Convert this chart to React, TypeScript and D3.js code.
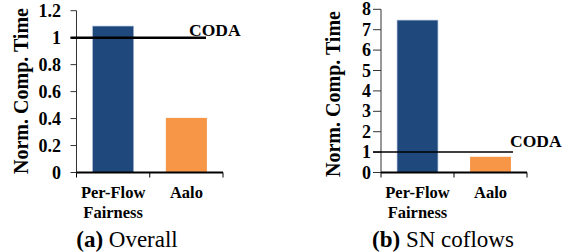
import React, { useRef, useEffect } from 'react';
import * as d3 from 'd3';

const categories = ['Per-Flow Fairness', 'Aalo'];
const overallValues = [1.086, 0.405];
const snValues = [7.47, 0.77];
const overallTicks = [0, 0.2, 0.4, 0.6, 0.8, 1, 1.2];
const snTicks = [0, 1, 2, 3, 4, 5, 6, 7, 8];
const codaValue = 1;
const barColors = ['#1f497d', '#f79646'];

const W = 569;
const H = 252;
const serif = "'Liberation Serif', 'Times New Roman', serif";

const App = () => {
  const ref = useRef(null);

  useEffect(() => {
    const svg = d3.select(ref.current);
    svg.selectAll('*').remove();

    const drawPanel = (opts) => {
      const { values, ticks, yMax, axisX, yTop, xEnd, tickLen, labelGap, codaEnd, codaStroke, codaLabelX, codaLabelY, titleX, titleY, capX, capBold, capRest } = opts;
      const y0 = 172.5;
      const y = d3.scaleLinear().domain([0, yMax]).range([y0, yTop]);
      const x = d3.scaleBand().domain(categories).range([axisX, xEnd]).paddingInner(0.44).paddingOuter(0.22);
      const g = svg.append('g').style('font-family', serif);

      // bars
      g.selectAll('rect.bar').data(values).join('rect')
        .attr('x', (d, i) => x(categories[i]))
        .attr('y', d => y(d))
        .attr('width', x.bandwidth())
        .attr('height', d => y0 - y(d))
        .attr('fill', (d, i) => barColors[i])
        .attr('stroke', (d, i) => i === 0 ? '#a9bcd6' : 'none')
        .attr('stroke-width', 0.6);

      // y axis
      g.append('line').attr('x1', axisX).attr('x2', axisX).attr('y1', yTop).attr('y2', y0)
        .attr('stroke', '#333').attr('stroke-width', 1);
      g.selectAll('line.yt').data(ticks).join('line')
        .attr('x1', axisX - tickLen).attr('x2', axisX)
        .attr('y1', d => y(d)).attr('y2', d => y(d))
        .attr('stroke', '#333').attr('stroke-width', 1);
      g.selectAll('text.yl').data(ticks).join('text')
        .attr('x', axisX - labelGap).attr('y', d => y(d)).attr('dy', '0.34em')
        .attr('text-anchor', 'end').style('font-weight', 'bold').style('font-size', '18px')
        .text(d => d);

      // x axis
      g.append('line').attr('x1', axisX).attr('x2', xEnd).attr('y1', y0).attr('y2', y0)
        .attr('stroke', '#000').attr('stroke-width', 2);
      const bounds = [axisX, axisX + x.step(), xEnd];
      g.selectAll('line.xt').data(bounds).join('line')
        .attr('x1', d => d).attr('x2', d => d).attr('y1', y0).attr('y2', y0 + 5)
        .attr('stroke', '#000').attr('stroke-width', 1);

      // category labels
      categories.forEach((c, i) => {
        const cx = x(c) + x.bandwidth() / 2;
        const words = c === 'Aalo' ? ['Aalo'] : ['Per-Flow', 'Fairness'];
        words.forEach((w, j) => {
          g.append('text').attr('x', cx).attr('y', 198 + j * 19.5)
            .attr('text-anchor', 'middle').style('font-weight', 'bold').style('font-size', '16.5px')
            .text(w);
        });
      });

      // CODA reference line
      g.append('line').attr('x1', axisX - tickLen).attr('x2', codaEnd)
        .attr('y1', y(codaValue)).attr('y2', y(codaValue))
        .attr('stroke', '#000').attr('stroke-width', codaStroke);
      g.append('text').attr('x', codaLabelX).attr('y', codaLabelY)
        .style('font-weight', 'bold').style('font-size', '17.5px')
        .text('CODA');

      // y title
      g.append('text').attr('transform', `translate(${titleX},${titleY}) rotate(-90)`)
        .attr('text-anchor', 'middle').style('font-weight', 'bold').style('font-size', '20px')
        .text('Norm. Comp. Time');

      // caption
      const cap = g.append('text').attr('x', capX).attr('y', 246.5).attr('text-anchor', 'middle')
        .style('font-size', '23px');
      cap.append('tspan').style('font-weight', 'bold').text(capBold);
      cap.append('tspan').text(' ' + capRest);
    };

    drawPanel({
      values: overallValues, ticks: overallTicks, yMax: 1.2,
      axisX: 76.5, yTop: 10.7, xEnd: 223, tickLen: 6, labelGap: 15.5,
      codaEnd: 206, codaStroke: 2.5, codaLabelX: 189, codaLabelY: 35.5,
      titleX: 28, titleY: 91, capX: 127, capBold: '(a)', capRest: 'Overall',
    });
    drawPanel({
      values: snValues, ticks: snTicks, yMax: 8,
      axisX: 381, yTop: 9.3, xEnd: 527, tickLen: 8, labelGap: 10,
      codaEnd: 513, codaStroke: 1.5, codaLabelX: 510, codaLabelY: 147,
      titleX: 339.5, titleY: 94, capX: 443, capBold: '(b)', capRest: 'SN coflows',
    });
  }, []);

  return (
    <svg ref={ref} width={W} height={H} viewBox={`0 0 ${W} ${H}`}
      style={{ position: 'absolute', left: 0, top: 0, background: '#fff' }} />
  );
};

export default App;
